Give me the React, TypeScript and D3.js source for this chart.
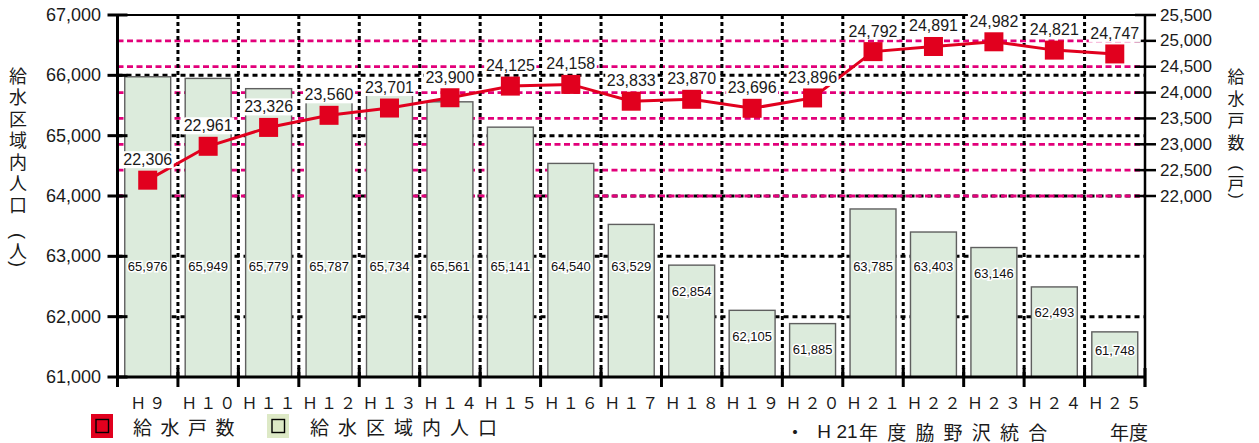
import React from "react";
import * as d3 from "d3";

// Fiscal years (Heisei)
const categories = [
  "Ｈ９", "Ｈ１０", "Ｈ１１", "Ｈ１２", "Ｈ１３", "Ｈ１４", "Ｈ１５", "Ｈ１６", "Ｈ１７",
  "Ｈ１８", "Ｈ１９", "Ｈ２０", "Ｈ２１", "Ｈ２２", "Ｈ２３", "Ｈ２４", "Ｈ２５",
];
// Population inside the supply area (people) – bars, left axis
const population = [
  65976, 65949, 65779, 65787, 65734, 65561, 65141, 64540, 63529,
  62854, 62105, 61885, 63785, 63403, 63146, 62493, 61748,
];
// Number of supplied households – line, right axis
const households = [
  22306, 22961, 23326, 23560, 23701, 23900, 24125, 24158, 23833,
  23870, 23696, 23896, 24792, 24891, 24982, 24821, 24747,
];
const leftTicks = [61000, 62000, 63000, 64000, 65000, 66000, 67000];
const rightTicks = [22000, 22500, 23000, 23500, 24000, 24500, 25000, 25500];
const leftTitle = "給水区域内人口";
const leftUnit = "人";
const rightTitle = "給水戸数";
const rightUnit = "戸";

const W = 1259;
const H = 443;
const X0 = 117.5;
const X1 = 1145;
const Y0 = 377;
const Y1 = 15;

const LATIN = "'Liberation Sans', Arial, sans-serif";
const CJK = "'Noto Sans CJK JP', 'Noto Sans', sans-serif";
const RED = "#e1001e";
const PINK = "#e2007a";
const INK = "#1a1a1a";
const fmt = d3.format(",");

// A vertical-text unit such as （人）: the brackets are turned to lie across the column.
function VerticalUnit(props: { x: number; y: number; ch: string; size: number; gap: number }) {
  const { x, y, ch, size, gap } = props;
  return (
    <g fill={INK}>
      <text
        x={x}
        y={y - gap}
        transform={`rotate(90 ${x} ${y - gap})`}
        textAnchor="middle"
        dominantBaseline="central"
        fontFamily={LATIN}
        fontSize={size}
      >
        (
      </text>
      <text x={x} y={y} textAnchor="middle" dominantBaseline="central" fontFamily={CJK} fontSize={size}>
        {ch}
      </text>
      <text
        x={x}
        y={y + gap}
        transform={`rotate(90 ${x} ${y + gap})`}
        textAnchor="middle"
        dominantBaseline="central"
        fontFamily={LATIN}
        fontSize={size}
      >
        )
      </text>
    </g>
  );
}

export default function App() {
  const slot = d3.scaleBand<string>().domain(categories).range([X0, X1]).padding(0);
  const x = d3
    .scaleBand<string>()
    .domain(categories)
    .range([X0, X1])
    .paddingInner(0.24)
    .paddingOuter(0.12);
  const yL = d3.scaleLinear().domain([61000, 67000]).range([Y0, Y1]);
  const yR = d3.scaleLinear().domain([18500, 25500]).range([Y0, Y1]);

  const linePath =
    d3
      .line<number>()
      .x((_, i) => (x(categories[i]) as number) + x.bandwidth() / 2)
      .y((d) => yR(d))(households) || "";

  const boundaries = categories.slice(1).map((c) => slot(c) as number);
  const allEdges = categories.map((c) => slot(c) as number).concat([X1]);

  return (
    <svg
      width={W}
      height={H}
      viewBox={`0 0 ${W} ${H}`}
      style={{ position: "absolute", left: 0, top: 0, background: "#fff" }}
    >
      <rect x={0} y={0} width={W} height={H} fill="#fff" />

      {/* black dotted horizontal grid on the population scale */}
      {leftTicks
        .filter((t) => t > 61000 && t < 67000)
        .map((t) => (
          <line
            key={"gl" + t}
            x1={X0}
            x2={X1}
            y1={yL(t)}
            y2={yL(t)}
            stroke="#000"
            strokeWidth={3}
            strokeDasharray="5,4"
          />
        ))}
      {/* pink dashed horizontal grid on the household scale */}
      {rightTicks
        .filter((t) => t < 25500)
        .map((t) => (
          <line
            key={"gr" + t}
            x1={X0}
            x2={X1}
            y1={yR(t)}
            y2={yR(t)}
            stroke={PINK}
            strokeWidth={2.8}
            strokeDasharray="6,3.5"
          />
        ))}
      {/* black dotted vertical grid at category boundaries */}
      {boundaries.map((bx, i) => (
        <line
          key={"gv" + i}
          x1={bx}
          x2={bx}
          y1={Y1}
          y2={Y0}
          stroke="#000"
          strokeWidth={3}
          strokeDasharray="4,3"
        />
      ))}

      {/* bars */}
      {population.map((v, i) => (
        <rect
          key={"b" + i}
          x={x(categories[i])}
          y={yL(v)}
          width={x.bandwidth()}
          height={Y0 - yL(v)}
          fill="#dcebdc"
          stroke="#5f5f5f"
          strokeWidth={1.4}
        />
      ))}
      {population.map((v, i) => {
        const top = yL(v);
        const ly = Math.max(266, Math.min(350, top + 26));
        return (
          <text
            key={"bl" + i}
            x={(x(categories[i]) as number) + x.bandwidth() / 2}
            y={ly}
            textAnchor="middle"
            dominantBaseline="central"
            fontFamily={LATIN}
            fontSize={13}
            fill="#111"
            stroke="#fff"
            strokeWidth={3}
            paintOrder="stroke"
          >
            {fmt(v)}
          </text>
        );
      })}

      {/* frame and axes */}
      <line x1={X0} x2={X1} y1={Y1} y2={Y1} stroke="#000" strokeWidth={2} />
      <line x1={X0} x2={X0} y1={Y1} y2={Y0 + 10} stroke="#000" strokeWidth={3} />
      <line x1={X1} x2={X1} y1={Y1} y2={Y0 + 10} stroke="#000" strokeWidth={2.5} />
      <line x1={X0} x2={X1} y1={Y0} y2={Y0} stroke="#000" strokeWidth={3} />
      {allEdges.map((ex, i) => (
        <line
          key={"bt" + i}
          x1={ex}
          x2={ex}
          y1={Y0 - 9}
          y2={Y0 + 10}
          stroke="#000"
          strokeWidth={3}
        />
      ))}
      {leftTicks.map((t) => (
        <g key={"lt" + t}>
          <line x1={X0 - 10} x2={X0 + 10} y1={yL(t)} y2={yL(t)} stroke="#000" strokeWidth={3} />
          <text
            x={101}
            y={yL(t)}
            textAnchor="end"
            dominantBaseline="central"
            fontFamily={LATIN}
            fontSize={18}
            fill={INK}
          >
            {fmt(t)}
          </text>
        </g>
      ))}
      {rightTicks.map((t) => (
        <g key={"rt" + t}>
          <line x1={X1 - 10} x2={X1 + 11} y1={yR(t)} y2={yR(t)} stroke="#000" strokeWidth={2.5} />
          <text
            x={1160}
            y={yR(t)}
            textAnchor="start"
            dominantBaseline="central"
            fontFamily={LATIN}
            fontSize={17}
            fill={INK}
          >
            {fmt(t)}
          </text>
        </g>
      ))}
      {categories.map((c) => (
        <text
          key={"c" + c}
          x={(slot(c) as number) + slot.bandwidth() / 2 + 1.5}
          y={402}
          textAnchor="middle"
          dominantBaseline="central"
          fontFamily={CJK}
          fontSize={16}
          letterSpacing={3}
          fill={INK}
        >
          {c}
        </text>
      ))}

      {/* household line */}
      <path d={linePath} fill="none" stroke={RED} strokeWidth={3} />
      {households.map((v, i) => {
        const cx = (x(categories[i]) as number) + x.bandwidth() / 2;
        const cy = yR(v);
        return (
          <g key={"m" + i}>
            <rect x={cx - 9.5} y={cy - 9.5} width={19} height={19} fill={RED} />
            <rect x={cx - 26} y={cy - 29} width={52} height={17} fill="#fff" />
            <text
              x={cx}
              y={cy - 20.5}
              textAnchor="middle"
              dominantBaseline="central"
              fontFamily={LATIN}
              fontSize={16}
              fill={INK}
            >
              {fmt(v)}
            </text>
          </g>
        );
      })}

      {/* axis titles, set vertically */}
      <text
        x={18}
        y={67}
        style={{ writingMode: "vertical-rl" }}
        fontFamily={CJK}
        fontSize={18}
        letterSpacing={3.5}
        fill={INK}
      >
        {leftTitle}
      </text>
      <VerticalUnit x={18} y={250} ch={leftUnit} size={18} gap={14} />
      <text
        x={1236}
        y={68.5}
        style={{ writingMode: "vertical-rl" }}
        fontFamily={CJK}
        fontSize={17}
        letterSpacing={5}
        fill={INK}
      >
        {rightTitle}
      </text>
      <VerticalUnit x={1236} y={182} ch={rightUnit} size={17} gap={14} />

      {/* legend */}
      <rect x={91} y={414} width={22} height={24} fill={RED} />
      <rect x={96} y={419.5} width={12.5} height={13} fill="none" stroke="#000" strokeWidth={1.4} />
      <text
        x={133}
        y={426}
        dominantBaseline="central"
        fontFamily={CJK}
        fontSize={19}
        letterSpacing={8.5}
        fill={INK}
      >
        給水戸数
      </text>
      <rect x={267} y={414} width={22} height={24} fill="#dde9c6" />
      <rect x={272} y={419.5} width={12.5} height={13} fill="none" stroke="#000" strokeWidth={1.4} />
      <text
        x={310}
        y={426}
        dominantBaseline="central"
        fontFamily={CJK}
        fontSize={19}
        letterSpacing={9}
        fill={INK}
      >
        給水区域内人口
      </text>

      {/* note */}
      <text x={795} y={431} textAnchor="middle" dominantBaseline="central" fontFamily={CJK} fontSize={19} fill={INK}>
        ・
      </text>
      <text x={824} y={431} textAnchor="middle" dominantBaseline="central" fontFamily={LATIN} fontSize={19} fill={INK}>
        H
      </text>
      <text x={847} y={431} textAnchor="middle" dominantBaseline="central" fontFamily={LATIN} fontSize={19} fill={INK}>
        21
      </text>
      <text x={859} y={431} dominantBaseline="central" fontFamily={CJK} fontSize={19} letterSpacing={9.2} fill={INK}>
        年度脇野沢統合
      </text>
      <text x={1110} y={431} dominantBaseline="central" fontFamily={CJK} fontSize={19} fill={INK}>
        年度
      </text>
    </svg>
  );
}
